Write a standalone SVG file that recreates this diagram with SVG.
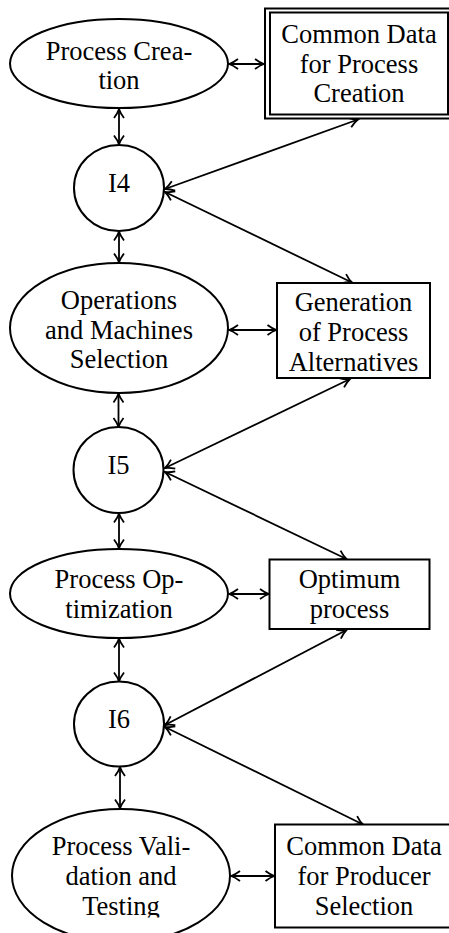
<svg xmlns="http://www.w3.org/2000/svg" width="449" height="933" viewBox="0 0 449 933">
<style>
.n{fill:#fff;stroke:#000;stroke-width:2}
.t{font-family:"Liberation Serif","Times New Roman",serif;font-size:26.5px;fill:#000;text-anchor:middle}
.c{stroke:#000;stroke-width:1.8;fill:none;marker-start:url(#ah);marker-end:url(#ah)}
</style>
<defs>
<marker id="ah" viewBox="-11 -7 13 14" refX="0" refY="0" markerWidth="13" markerHeight="14" markerUnits="userSpaceOnUse" orient="auto-start-reverse">
<path d="M-9,-5 Q-4,-1.2 0,0 Q-4,1.2 -9,5" fill="none" stroke="#000" stroke-width="1.8"/>
</marker>
<clipPath id="clipT"><rect x="0" y="0" width="449" height="917.5"/></clipPath>
</defs>
<rect width="449" height="933" fill="#fff"/>

<g id="connectors">
<line class="c" x1="119" y1="109" x2="119" y2="144.5"/>
<line class="c" x1="229" y1="64" x2="264" y2="64"/>
<line class="c" x1="165" y1="189" x2="358" y2="119.5"/>
<line class="c" x1="165" y1="192" x2="352" y2="282.5"/>
<line class="c" x1="119" y1="231.5" x2="119" y2="262.5"/>
<line class="c" x1="229" y1="330" x2="276.5" y2="330"/>
<line class="c" x1="350" y1="379" x2="165" y2="468"/>
<line class="c" x1="118.5" y1="393.5" x2="118.5" y2="427"/>
<line class="c" x1="165" y1="472" x2="346.5" y2="559"/>
<line class="c" x1="119" y1="513.5" x2="119" y2="548.5"/>
<line class="c" x1="229" y1="594" x2="269" y2="594"/>
<line class="c" x1="346.5" y1="630" x2="165" y2="725"/>
<line class="c" x1="119" y1="638.5" x2="119" y2="681.5"/>
<line class="c" x1="165" y1="727" x2="363" y2="824.5"/>
<line class="c" x1="120" y1="767" x2="120" y2="808.5"/>
<line class="c" x1="231" y1="876" x2="274.5" y2="876"/>
</g>

<g id="process-creation">
<ellipse class="n" cx="119" cy="63.5" rx="109" ry="44.5"/>
<text class="t" x="119" y="60">Process Crea-</text>
<text class="t" x="119" y="88.5">tion</text>
</g>

<g id="common-data-process-creation">
<rect class="n" x="265" y="8.5" width="190" height="110" stroke-width="2.2"/>
<rect class="n" x="270" y="12.5" width="178" height="102" stroke-width="2"/>
<text class="t" x="359" y="43">Common Data</text>
<text class="t" x="359" y="72.5">for Process</text>
<text class="t" x="359" y="102">Creation</text>
</g>

<g id="i4">
<ellipse class="n" cx="119" cy="188" rx="45" ry="43"/>
<text class="t" x="119" y="192">I4</text>
</g>

<g id="operations-machines-selection">
<ellipse class="n" cx="119" cy="328" rx="109" ry="65"/>
<text class="t" x="119" y="309">Operations</text>
<text class="t" x="119" y="338.5">and Machines</text>
<text class="t" x="119" y="368">Selection</text>
</g>

<g id="generation-process-alternatives">
<rect class="n" x="277" y="283" width="153" height="95"/>
<text class="t" x="353.5" y="311">Generation</text>
<text class="t" x="353.5" y="341">of Process</text>
<text class="t" x="353.5" y="371">Alternatives</text>
</g>

<g id="i5">
<ellipse class="n" cx="118.5" cy="470" rx="45" ry="43"/>
<text class="t" x="118.5" y="474">I5</text>
</g>

<g id="process-optimization">
<ellipse class="n" cx="119" cy="593.5" rx="109" ry="44.5"/>
<text class="t" x="119" y="588">Process Op-</text>
<text class="t" x="119" y="618">timization</text>
</g>

<g id="optimum-process">
<rect class="n" x="269.5" y="559.5" width="160" height="69.5"/>
<text class="t" x="349.5" y="588">Optimum</text>
<text class="t" x="349.5" y="617.5">process</text>
</g>

<g id="i6">
<ellipse class="n" cx="119" cy="724" rx="45" ry="42.5"/>
<text class="t" x="119" y="728">I6</text>
</g>

<g id="process-validation-testing">
<ellipse class="n" cx="121" cy="875.5" rx="109" ry="66.5"/>
<g clip-path="url(#clipT)">
<text class="t" x="121" y="855">Process Vali-</text>
<text class="t" x="121" y="885">dation and</text>
<text class="t" x="121" y="915">Testing</text>
</g>
</g>

<g id="common-data-producer-selection">
<rect class="n" x="275" y="824.5" width="180" height="103"/>
<text class="t" x="364" y="855">Common Data</text>
<text class="t" x="364" y="885">for Producer</text>
<text class="t" x="364" y="915">Selection</text>
</g>
</svg>
